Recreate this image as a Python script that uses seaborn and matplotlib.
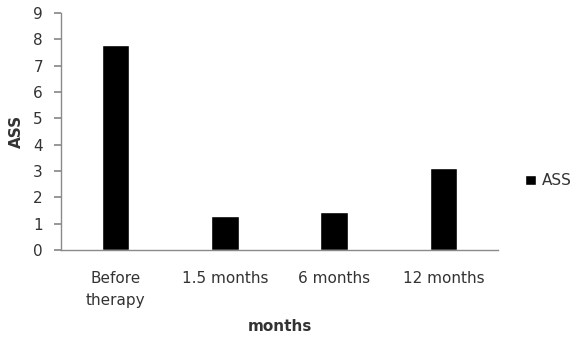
import matplotlib
matplotlib.use("Agg")
import matplotlib.pyplot as plt
import pandas as pd
import seaborn as sns

sns.set_theme(style="white")
plt.rcParams['font.family'] = ['DejaVu Sans']

# Data
categories = ['Before\ntherapy', '1.5 months', '6 months', '12 months']
ass_values = [7.8, 1.3, 1.45, 3.1]

df = pd.DataFrame({'months': categories, 'ASS': ass_values, 'series': 'ASS'})

fig = plt.figure(figsize=(5.88, 3.51), dpi=100)
ax = fig.add_axes([0.1037, 0.2877, 0.7433, 0.6753])

sns.barplot(data=df, x='months', y='ASS', hue='series', palette=['black'],
            width=0.25, ax=ax, legend=True)

grey = '#8a8a8a'
text_col = '#333333'
ax.set_ylim(0, 9)
ax.set_xlim(-0.5, 3.5)
ax.set_yticks(range(0, 10))
for side in ['top', 'right']:
    ax.spines[side].set_visible(False)
for side in ['left', 'bottom']:
    ax.spines[side].set_color(grey)
    ax.spines[side].set_linewidth(1.0)
ax.tick_params(axis='y', left=True, length=5, color=grey, labelsize=11,
               labelcolor=text_col, pad=8)
ax.tick_params(axis='x', bottom=False, labelsize=11, labelcolor=text_col, pad=9)
for lbl in ax.get_xticklabels():
    lbl.set_linespacing(1.6)

ax.set_xlabel('months', fontsize=11, fontweight='bold', color=text_col, labelpad=8)
ax.set_ylabel('ASS', fontsize=11, fontweight='bold', color=text_col, labelpad=7)

handles, labels = ax.get_legend_handles_labels()
ax.legend(handles, labels, loc='center left', bbox_to_anchor=(0.87, 0.485),
          bbox_transform=fig.transFigure, frameon=False, fontsize=11,
          handlelength=0.7, handleheight=0.7, handletextpad=0.4,
          labelcolor=text_col)

fig.savefig('out.png', dpi=100)
